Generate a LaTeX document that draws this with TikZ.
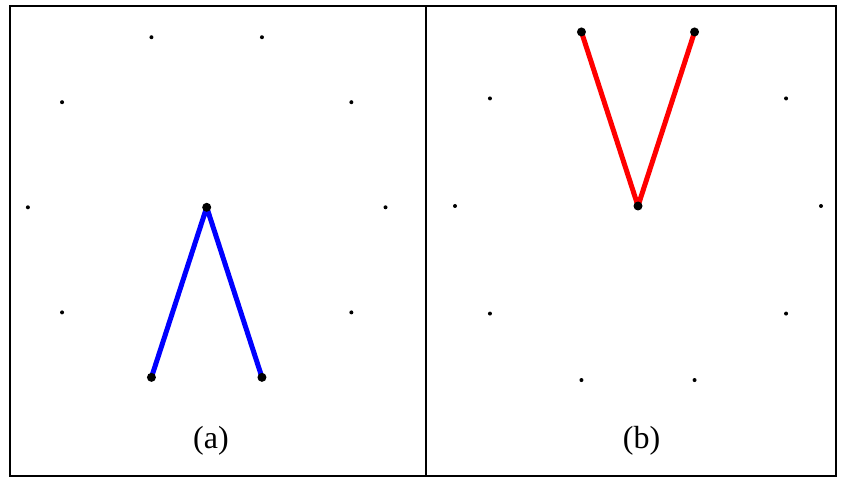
\documentclass[tikz,border=0pt]{standalone}
\usepackage{fontspec}
\setmainfont{Liberation Serif}
\usetikzlibrary{calc}
\begin{document}
\begin{tikzpicture}[x=1pt,y=-1pt,
  frame/.style={draw=black,line width=2pt},
  smalldot/.style={circle,fill=black,inner sep=0pt,minimum size=4pt},
  bigdot/.style={circle,fill=black,inner sep=0pt,minimum size=9pt},
  blueline/.style={draw=blue,line width=5pt,line join=round},
  redline/.style={draw=red,line width=5pt,line join=round},
  caption/.style={font=\fontsize{32}{36}\selectfont,inner sep=0pt}]
\useasboundingbox (0,0) rectangle (842,478);
\fill[white] (0,0) rectangle (842,478);
\draw[frame] (10,6) rectangle (836,476);
\draw[frame] (425.5,6) -- (425.5,476);
% panel (a)
\coordinate (ca) at (206.7,207.3);
\foreach \a in {0,36,144,180,216,252,288,324} {
  \node[smalldot] (a\a) at ($(ca)+(\a:178.8)$) {};
}
\coordinate (a72) at ($(ca)+(72:178.8)$);
\coordinate (a108) at ($(ca)+(108:178.8)$);
\draw[blueline] (a108) -- (ca) -- (a72);
\node[bigdot] (ac) at (ca) {};
\node[bigdot] (ab1) at (a72) {};
\node[bigdot] (ab2) at (a108) {};
\node[caption] (la) at (211,441) {(a)};
% panel (b)
\coordinate (cb) at (638,206);
\foreach \a in {0,36,72,108,144,180,216,324} {
  \node[smalldot] (b\a) at ($(cb)+(\a:183)$) {};
}
\coordinate (b252) at ($(cb)+(252:183)$);
\coordinate (b288) at ($(cb)+(288:183)$);
\draw[redline] (b252) -- (cb) -- (b288);
\node[bigdot] (bc) at (cb) {};
\node[bigdot] (bt1) at (b252) {};
\node[bigdot] (bt2) at (b288) {};
\node[caption] (lb) at (641.5,441) {(b)};
\end{tikzpicture}
\end{document}
